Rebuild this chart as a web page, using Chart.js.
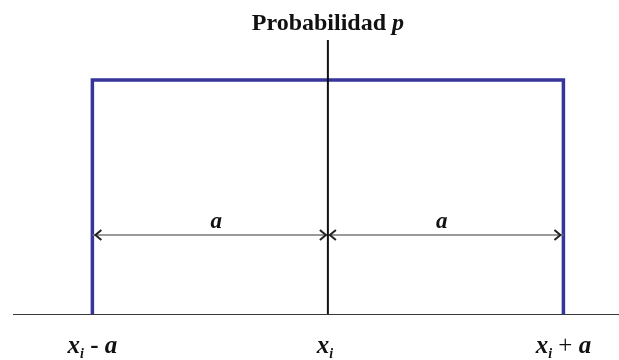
<!DOCTYPE html>
<html>
<head>
<meta charset="utf-8">
<script src="https://cdn.jsdelivr.net/npm/chart.js@4.4.1/dist/chart.umd.min.js"></script>
<style>
  html, body { margin: 0; padding: 0; background: #fff; }
  #wrap { width: 619px; height: 360px; }
</style>
</head>
<body>
<div id="wrap"><canvas id="chart" width="619" height="360"></canvas></div>
<script>
// x values: xi - a, xi, xi + a  (a = 1)
const xMarks = [-1, 0, 1];
const xLabels = [
  [['x', 'it'], ['i', 'sub'], [' - ', 'b'], ['a', 'it']],
  [['x', 'it'], ['i', 'sub']],
  [['x', 'it'], ['i', 'sub'], [' + ', 'r'], ['a', 'it']]
];
const probability = 1;          // height of the rectangle
const arrowLevel = 0.34;        // where the "a" arrows sit
const aLabels = ['a', 'a'];
const xRange = [-1.337, 1.236];
const yRange = [0, 1.17];

const blue = '#35359b';

const fonts = {
  it: 'italic bold 25px "Liberation Serif", serif',
  sub: 'italic bold 14px "Liberation Serif", serif',
  b: 'bold 25px "Liberation Serif", serif',
  r: '25px "Liberation Serif", serif'
};

function drawRich(ctx, parts, cx, y) {
  let w = 0;
  parts.forEach(p => { ctx.font = fonts[p[1]]; w += ctx.measureText(p[0]).width; });
  let x = cx - w / 2;
  parts.forEach(p => {
    ctx.font = fonts[p[1]];
    ctx.fillText(p[0], x, p[1] === 'sub' ? y + 5 : y);
    x += ctx.measureText(p[0]).width;
  });
}

function chevron(ctx, x, y, dir) {
  ctx.beginPath();
  ctx.moveTo(x + dir * 7, y - 5);
  ctx.lineTo(x + dir * 1, y);
  ctx.lineTo(x + dir * 7, y + 5);
  ctx.stroke();
}

const decor = {
  id: 'decor',
  afterDatasetsDraw(chart) {
    const ctx = chart.ctx;
    const xs = chart.scales.x, ys = chart.scales.y;
    ctx.save();
    ctx.fillStyle = '#111';
    ctx.textBaseline = 'alphabetic';

    // title
    const cx0 = xs.getPixelForValue(0);
    const tf = 'bold 24px "Liberation Serif", serif';
    const tfi = 'italic bold 24px "Liberation Serif", serif';
    ctx.font = tf;
    const w1 = ctx.measureText('Probabilidad ').width;
    ctx.font = tfi;
    const w2 = ctx.measureText('p').width;
    const tx = cx0 - (w1 + w2) / 2;
    ctx.font = tf;
    ctx.fillText('Probabilidad ', tx, 30);
    ctx.font = tfi;
    ctx.fillText('p', tx + w1, 30);

    // arrowheads
    const ay = ys.getPixelForValue(arrowLevel);
    ctx.strokeStyle = '#222';
    ctx.lineWidth = 2;
    const px = xMarks.map(v => xs.getPixelForValue(v));
    chevron(ctx, px[0] + 2, ay, 1);
    chevron(ctx, px[1] - 1, ay, -1);
    chevron(ctx, px[1] + 1, ay, 1);
    chevron(ctx, px[2] - 2, ay, -1);

    // "a" labels
    ctx.font = 'italic bold 23px "Liberation Serif", serif';
    ctx.textAlign = 'center';
    ctx.fillText(aLabels[0], (px[0] + px[1]) / 2 + 6, ay - 7);
    ctx.fillText(aLabels[1], (px[1] + px[2]) / 2 - 4, ay - 7);
    ctx.textAlign = 'left';

    // bottom labels
    const by = ys.bottom + 38;
    xLabels.forEach((parts, i) => drawRich(ctx, parts, px[i] + (i === 1 ? -3 : 0), by));
    ctx.restore();
  }
};

new Chart(document.getElementById('chart'), {
  type: 'scatter',
  data: {
    datasets: [
      { // horizontal axis
        data: [{ x: xRange[0], y: 0 }, { x: xRange[1], y: 0 }],
        borderColor: '#3a3a3a', borderWidth: 2, showLine: true, pointRadius: 0
      },
      { // vertical axis
        data: [{ x: 0, y: 0 }, { x: 0, y: yRange[1] }],
        borderColor: '#111', borderWidth: 2, showLine: true, pointRadius: 0
      },
      { // arrow shafts
        data: [{ x: xMarks[0], y: arrowLevel }, { x: xMarks[2], y: arrowLevel }],
        borderColor: '#777', borderWidth: 1.5, showLine: true, pointRadius: 0
      },
      { // rectangular distribution
        data: [
          { x: xMarks[0], y: 0 }, { x: xMarks[0], y: probability },
          { x: xMarks[2], y: probability }, { x: xMarks[2], y: 0 }
        ],
        borderColor: blue, borderWidth: 3.5, showLine: true, pointRadius: 0,
        borderJoinStyle: 'miter'
      }
    ]
  },
  options: {
    responsive: false,
    animation: false,
    layout: { padding: { left: 13, right: 0, top: 40, bottom: 45 } },
    plugins: { legend: { display: false }, tooltip: { enabled: false } },
    scales: {
      x: { type: 'linear', min: xRange[0], max: xRange[1], display: false },
      y: { type: 'linear', min: yRange[0], max: yRange[1], display: false }
    }
  },
  plugins: [decor]
});
</script>
</body>
</html>
